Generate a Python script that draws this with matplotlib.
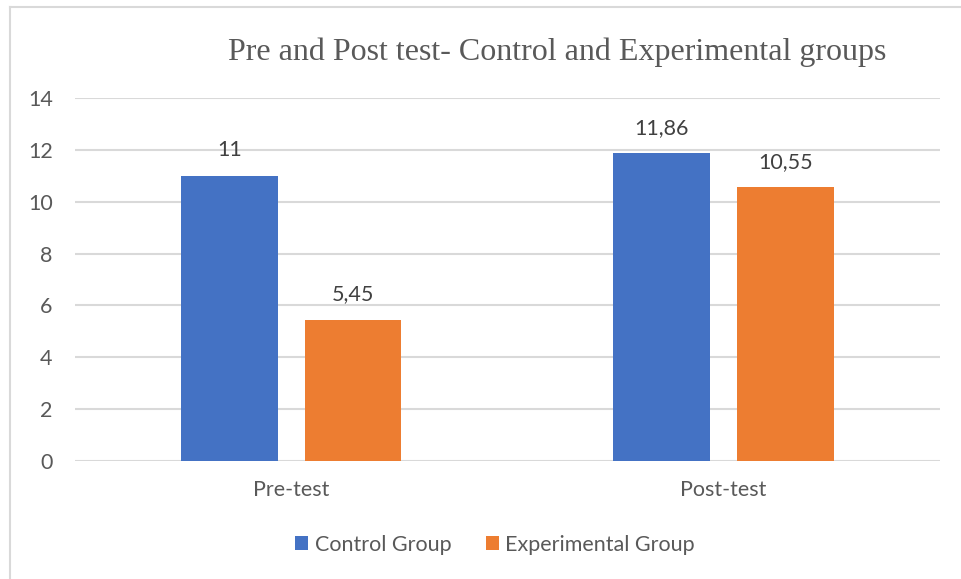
import numpy as np
import matplotlib
matplotlib.use('Agg')
import matplotlib.pyplot as plt
from matplotlib.lines import Line2D

categories = ['Pre-test', 'Post-test']
control = [11, 11.86]
experimental = [5.45, 10.55]
control_labels = ['11', '11,86']
experimental_labels = ['5,45', '10,55']
yticks = [0, 2, 4, 6, 8, 10, 12, 14]

plt.rcParams['font.family'] = ['Lato', 'DejaVu Sans']
fs = 15.5

fig = plt.figure(figsize=(9.61, 5.79), dpi=100)
ax = fig.add_axes([0.078, 0.2038, 0.9, 0.627])

x = np.arange(len(categories))
w = 0.224
off = 0.143
b1 = ax.bar(x - off, control, w, color='#4472C4', label='Control Group', zorder=3)
b2 = ax.bar(x + off, experimental, w, color='#ED7D31', label='Experimental Group', zorder=3)

for bars, labels in ((b1, control_labels), (b2, experimental_labels)):
    for rect, lab in zip(bars, labels):
        ax.annotate(lab, (rect.get_x() + rect.get_width() / 2, rect.get_height()),
                    xytext=(0, 18.5), textcoords='offset points',
                    ha='center', va='center', fontsize=fs, color='#404040')

ax.set_xlim(-0.5, 1.5)
ax.set_ylim(0, 14)
ax.set_yticks(yticks)
ax.set_xticks(x)
ax.set_xticklabels(categories)
ax.tick_params(axis='both', length=0, labelsize=fs, labelcolor='#595959')
ax.tick_params(axis='y', pad=16)
ax.tick_params(axis='x', pad=14)
ax.yaxis.grid(True, color='#D9D9D9', linewidth=1.5, zorder=0)
ax.set_axisbelow(True)
for s in ax.spines.values():
    s.set_visible(False)

fig.text(0.58, 0.91, 'Pre and Post test- Control and Experimental groups',
         ha='center', va='center', fontsize=23, color='#595959',
         family='Liberation Serif')

fig.legend(loc='center', bbox_to_anchor=(0.515, 0.059), ncol=2, frameon=False,
           fontsize=fs, labelcolor='#595959', handlelength=0.6, handleheight=0.6,
           handletextpad=0.3, columnspacing=1.6)

# chart frame (only top and left edges are visible)
fig.add_artist(Line2D([10 / 961, 1], [1 - 7 / 579, 1 - 7 / 579],
                      transform=fig.transFigure, color='#D9D9D9', linewidth=1.5))
fig.add_artist(Line2D([10 / 961, 10 / 961], [0, 1 - 7 / 579],
                      transform=fig.transFigure, color='#D9D9D9', linewidth=1.5))

fig.savefig('out.png', dpi=100)
